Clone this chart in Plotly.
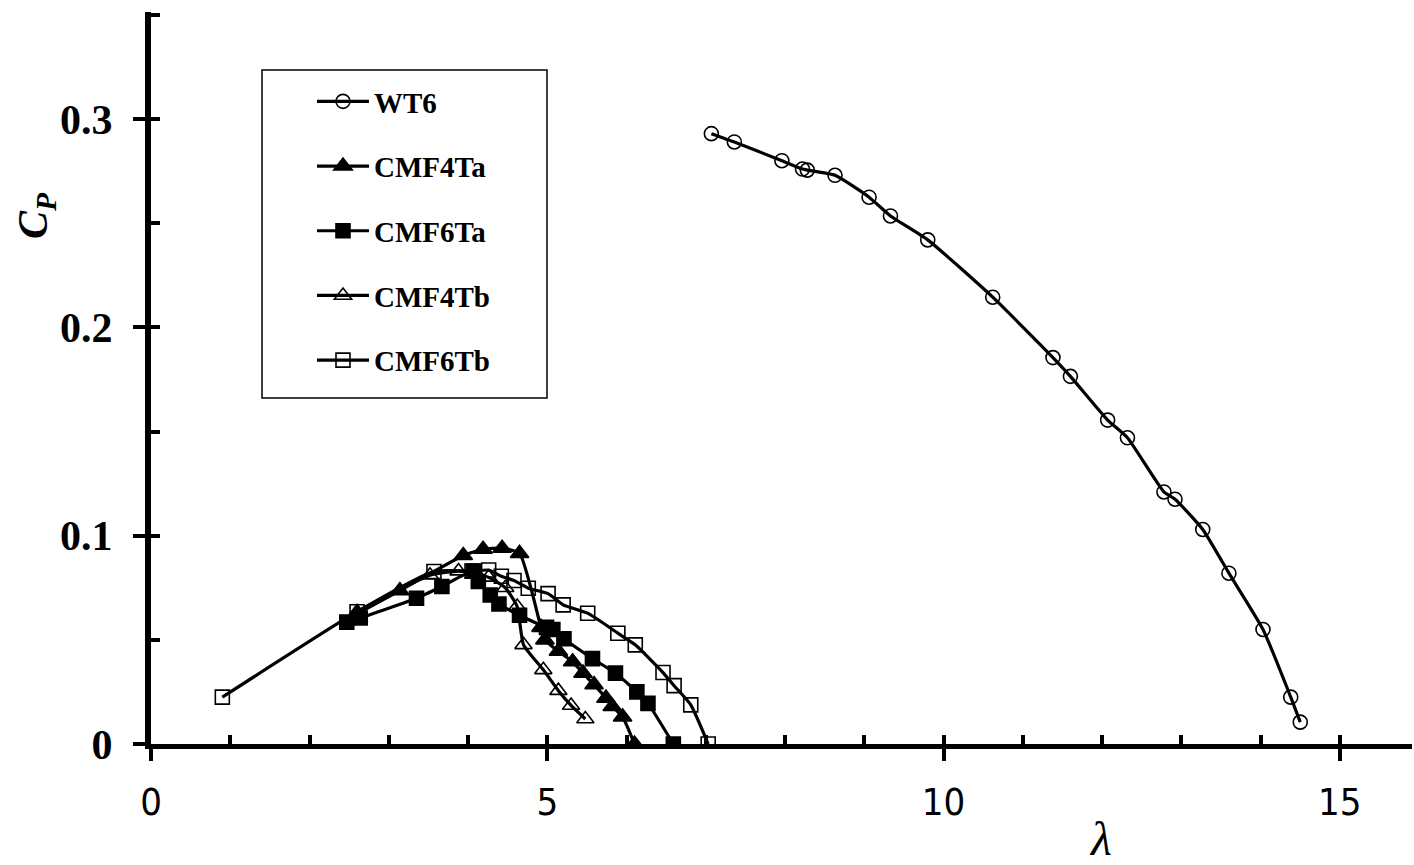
import plotly.graph_objects as go

# ---- data ----
wt6_x = [7.07, 7.36, 7.96, 8.22, 8.28, 8.63, 9.06, 9.33, 9.80, 10.62, 11.38, 11.60,
         12.07, 12.32, 12.78, 12.92, 13.27, 13.60, 14.03, 14.38, 14.50]
wt6_y = [0.293, 0.289, 0.280, 0.276, 0.2755, 0.273, 0.2625, 0.2535, 0.242, 0.2145, 0.1855,
         0.1765, 0.1555, 0.1470, 0.1210, 0.1175, 0.1030, 0.0820, 0.0550, 0.0225, 0.0105]

cmf4ta_x = [2.60, 3.14, 3.94, 4.19, 4.43, 4.65, 4.92, 4.97, 5.14, 5.32, 5.45, 5.59,
            5.74, 5.82, 5.95, 6.10]
cmf4ta_y = [0.0625, 0.0736, 0.0905, 0.0935, 0.0940, 0.0915, 0.0560, 0.0500, 0.0445,
            0.0395, 0.0340, 0.0285, 0.0220, 0.0180, 0.0130, 0.0]

cmf6ta_x = [2.47, 2.64, 3.35, 3.67, 4.07, 4.13, 4.28, 4.39, 4.65, 4.99, 5.07, 5.21,
            5.57, 5.86, 6.13, 6.27, 6.59]
cmf6ta_y = [0.0585, 0.0605, 0.0700, 0.0756, 0.0830, 0.0780, 0.0715, 0.0672, 0.0618,
            0.0560, 0.0550, 0.0505, 0.0410, 0.0340, 0.0250, 0.0195, 0.0]

cmf4tb_x = [2.60, 3.52, 3.88, 4.10, 4.26, 4.47, 4.62, 4.70, 4.95, 5.14, 5.30, 5.48]
cmf4tb_y = [0.0635, 0.0810, 0.0830, 0.0820, 0.0800, 0.0750, 0.0660, 0.0476, 0.0356,
            0.0256, 0.0185, 0.0120]

cmf6tb_x = [0.90, 2.60, 3.57, 4.05, 4.26, 4.42, 4.58, 4.76, 5.01, 5.20, 5.51, 5.89,
            6.11, 6.46, 6.60, 6.81, 7.03]
cmf6tb_y = [0.0225, 0.0635, 0.0828, 0.0830, 0.0835, 0.0805, 0.0785, 0.0748, 0.0722,
            0.0668, 0.0628, 0.0532, 0.0476, 0.0343, 0.0280, 0.0188, 0.0]

x_range = [0, 15.91]
y_range = [0, 0.3514]
x_major = [0, 5, 10, 15]
x_major_text = ["0", "5", "10", "15"]
y_major = [0, 0.1, 0.2, 0.3]
y_major_text = ["0", "0.1", "0.2", "0.3"]

series = [
    ("WT6", wt6_x, wt6_y, "circle-open", 14),
    ("CMF4Ta", cmf4ta_x, cmf4ta_y, "triangle-up", 16),
    ("CMF6Ta", cmf6ta_x, cmf6ta_y, "square", 14),
    ("CMF4Tb", cmf4tb_x, cmf4tb_y, "triangle-up-open", 15),
    ("CMF6Tb", cmf6tb_x, cmf6tb_y, "square-open", 14),
]

fig = go.Figure()
for i, (name, xs, ys, sym, sz) in enumerate(series):
    fig.add_trace(go.Scatter(
        x=xs, y=ys, name=name, mode="lines+markers",
        line=dict(color="black", width=3.2, shape="spline", smoothing=0.5),
        marker=dict(symbol=sym, size=sz, color="black",
                    line=dict(color="black", width=1.6)),
        legendgroup=name,
        xaxis="x2" if i == 0 else "x",
        yaxis="y2" if i == 0 else "y",
    ))

serif = "Liberation Serif, Times New Roman, serif"

fig.update_layout(
    width=1414, height=865,
    margin=dict(l=151, r=2, t=12, b=121),
    paper_bgcolor="white", plot_bgcolor="white",
    showlegend=True,
    legend=dict(
        x=(312 - 151) / 1261, y=(744 - 76) / 732, xanchor="left", yanchor="top",
        bgcolor="rgba(0,0,0,0)", borderwidth=0,
        font=dict(family=serif, size=29, color="black", weight="bold"),
        traceorder="grouped", tracegroupgap=24, itemwidth=52,
    ),
    xaxis=dict(
        range=x_range, showgrid=False, zeroline=False,
        showline=True, linecolor="black", linewidth=5,
        tickmode="array", tickvals=x_major, ticktext=x_major_text,
        ticks="outside", ticklen=12, tickwidth=4, tickcolor="black",
        ticklabelstandoff=8,
        tickfont=dict(family="Liberation Sans Narrow, DejaVu Sans Condensed, sans-serif",
                      size=38, color="black"),
    ),
    xaxis2=dict(
        range=x_range, overlaying="x", anchor="y2", side="bottom",
        showgrid=False, zeroline=False, showline=False,
        tickmode="linear", tick0=0, dtick=1,
        ticks="inside", ticklen=9, tickwidth=4, tickcolor="black",
        showticklabels=False,
    ),
    yaxis=dict(
        range=y_range, showgrid=False, zeroline=False,
        showline=True, linecolor="black", linewidth=6,
        tickmode="array", tickvals=y_major, ticktext=y_major_text,
        ticks="outside", ticklen=12, tickwidth=4, tickcolor="black",
        ticklabelstandoff=12,
        tickfont=dict(family=serif, size=42, color="black", weight="bold"),
    ),
    yaxis2=dict(
        range=y_range, overlaying="y", anchor="x2", side="left",
        showgrid=False, zeroline=False, showline=False,
        tickmode="linear", tick0=0, dtick=0.05,
        ticks="inside", ticklen=9, tickwidth=4, tickcolor="black",
        showticklabels=False,
    ),
    shapes=[dict(
        type="rect", xref="paper", yref="paper",
        x0=(262 - 151) / 1261, x1=(547 - 151) / 1261,
        y0=(744 - 398) / 732, y1=(744 - 70) / 732,
        line=dict(color="black", width=1.5), fillcolor="rgba(0,0,0,0)",
    )],
    annotations=[
        dict(text="<b><i>C<sub>P</sub></i></b>", xref="paper", yref="paper",
             x=(36 - 151) / 1261, y=(744 - 216) / 732, showarrow=False,
             textangle=-90, font=dict(family=serif, size=42, color="black"),
             xanchor="center", yanchor="middle"),
        dict(text="<i>λ</i>", xref="paper", yref="paper",
             x=(1100 - 151) / 1261, y=(744 - 838) / 732, showarrow=False,
             font=dict(family=serif, size=48, color="black"),
             xanchor="center", yanchor="middle"),
    ],
)

fig.write_html(
    "out.html",
    config={"displayModeBar": False},
    post_script="document.body.style.margin='0';document.body.style.overflow='hidden';",
)
